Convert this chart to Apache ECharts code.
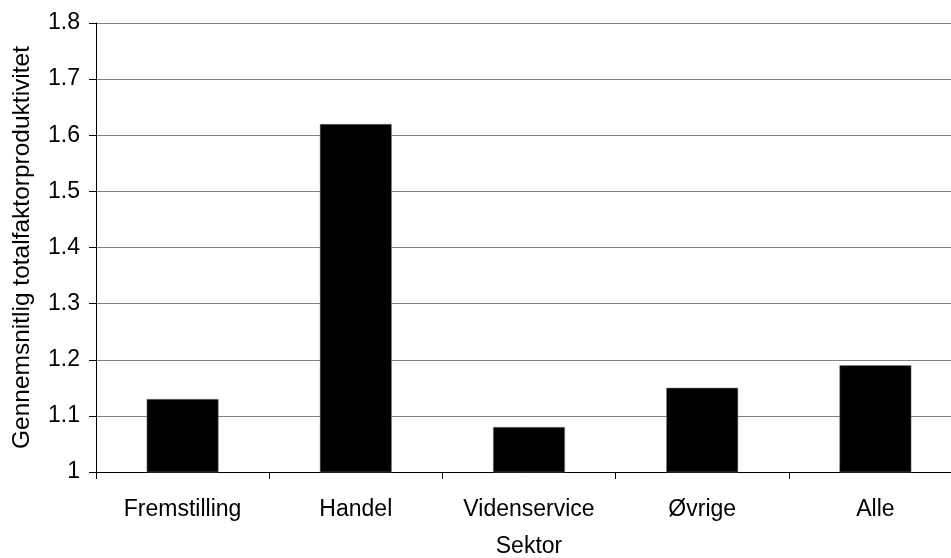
<!DOCTYPE html>
<html>
<head>
<meta charset="utf-8">
<script src="https://cdn.jsdelivr.net/npm/echarts@6/dist/echarts.min.js"></script>
<style>
  html, body { margin: 0; padding: 0; background: #fff; }
  #chart-root { width: 951px; height: 558px; }
</style>
</head>
<body>
<div id="chart-root"></div>
<script>
const sectors = ["Fremstilling", "Handel", "Videnservice", "Øvrige", "Alle"];
const tfpValues = [1.13, 1.62, 1.08, 1.15, 1.19];

const chart = echarts.init(document.getElementById("chart-root"));

const option = {
  animation: false,
  textStyle: { fontFamily: "Liberation Sans, Arial, sans-serif", color: "#000" },
  // plot runs a little past the right edge of the picture, as in the original
  grid: {
    left: 96, width: 866, top: 23, height: 449,
    containLabel: false,
    outerBoundsMode: "none"
  },
  xAxis: {
    type: "category",
    data: sectors,
    name: "Sektor",
    nameLocation: "center",
    nameGap: 63,
    nameTextStyle: { fontSize: 23, color: "#000" },
    axisLine: { lineStyle: { color: "#000", width: 1 } },
    axisTick: { show: true, length: 7, lineStyle: { color: "#000" } },
    axisLabel: { fontSize: 23, color: "#000", margin: 26 }
  },
  yAxis: {
    type: "value",
    min: 1,
    max: 1.8,
    interval: 0.1,
    name: "Gennemsnitlig totalfaktorproduktivitet",
    nameLocation: "center",
    nameRotate: 90,
    nameGap: 61,
    nameTextStyle: { fontSize: 24.5, color: "#000" },
    axisLine: { show: true, lineStyle: { color: "#000", width: 1 } },
    axisTick: { show: true, length: 7, lineStyle: { color: "#000" } },
    axisLabel: {
      fontSize: 23,
      color: "#000",
      margin: 16,
      formatter: v => String(+v.toFixed(1))
    },
    splitLine: { show: true, lineStyle: { color: "#808080", width: 1 } }
  },
  series: [
    {
      type: "bar",
      data: tfpValues,
      barWidth: "41.5%",
      itemStyle: { color: "#000", borderColor: "#808080", borderWidth: 0.5 }
    }
  ]
};

chart.setOption(option);
</script>
</body>
</html>
